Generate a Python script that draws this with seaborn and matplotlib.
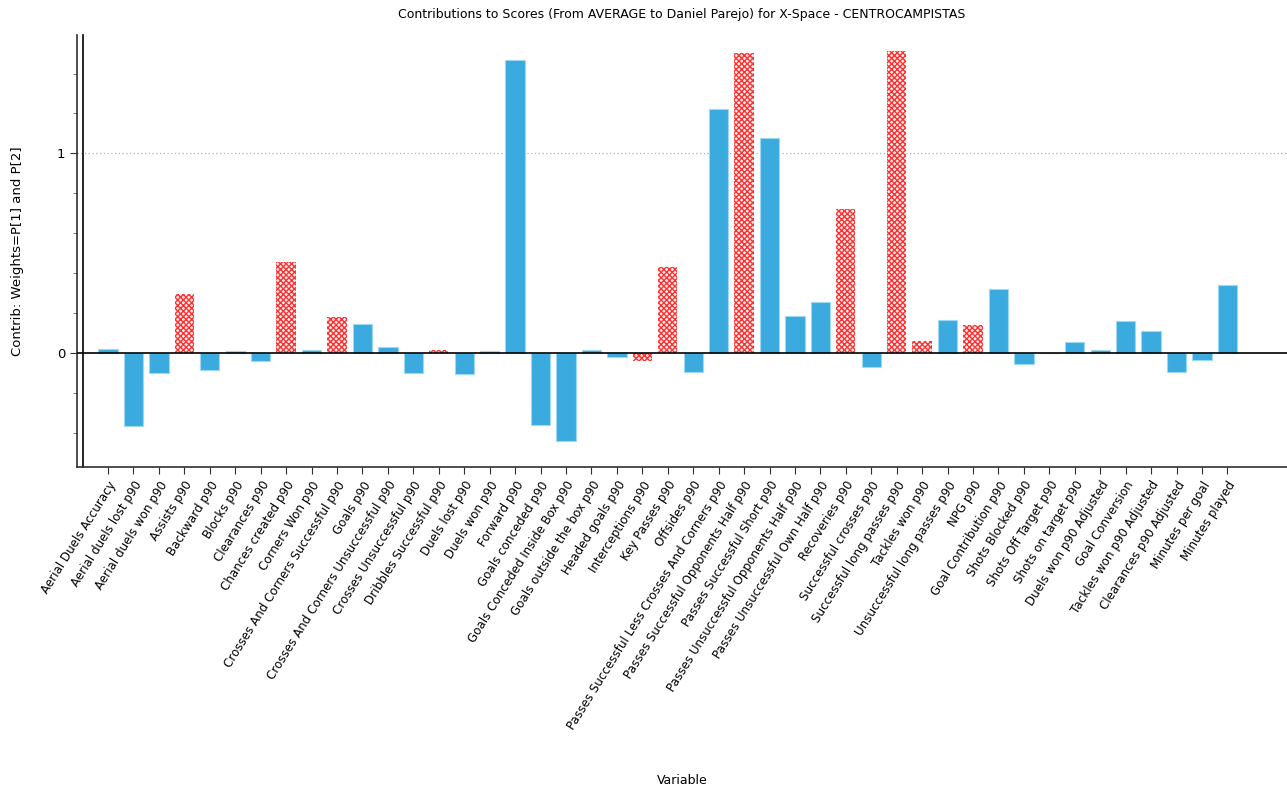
import pandas as pd
import matplotlib
matplotlib.use("Agg")
import matplotlib.pyplot as plt
from matplotlib.ticker import MultipleLocator, FixedLocator
import seaborn as sns

variables = [
    "Aerial Duels Accuracy", "Aerial duels lost p90", "Aerial duels won p90", "Assists p90",
    "Backward p90", "Blocks p90", "Clearances p90", "Chances created p90", "Corners Won p90",
    "Crosses And Corners Successful p90", "Goals p90", "Crosses And Corners Unsuccessful p90",
    "Crosses Unsuccessful p90", "Dribbles Successful p90", "Duels lost p90", "Duels won p90",
    "Forward p90", "Goals conceded p90", "Goals Conceded Inside Box p90", "Goals outside the box p90",
    "Headed goals p90", "Interceptions p90", "Key Passes p90", "Offsides p90",
    "Passes Successful Less Crosses And Corners p90", "Passes Successful Opponents Half p90",
    "Passes Successful Short p90", "Passes Unsuccessful Opponents Half p90",
    "Passes Unsuccessful Own Half p90", "Recoveries p90", "Successful crosses p90",
    "Successful long passes p90", "Tackles won p90", "Unsuccessful long passes p90", "NPG p90",
    "Goal Contribution p90", "Shots Blocked p90", "Shots Off Target p90", "Shots on target p90",
    "Duels won p90 Adjusted", "Goal Conversion", "Tackles won p90 Adjusted",
    "Clearances p90 Adjusted", "Minutes per goal", "Minutes played",
]
contrib = [
    0.020, -0.365, -0.099, 0.295, -0.084, 0.010, -0.040, 0.455, 0.016, 0.182,
    0.144, 0.028, -0.099, 0.016, -0.107, 0.007, 1.470, -0.363, -0.444, 0.014,
    -0.020, -0.040, 0.428, -0.095, 1.222, 1.503, 1.077, 0.184, 0.255, 0.722,
    -0.070, 1.513, 0.060, 0.166, 0.139, 0.320, -0.057, 0.000, 0.052, 0.012,
    0.159, 0.109, -0.095, -0.038, 0.339,
]
red_vars = [
    "Assists p90", "Chances created p90", "Crosses And Corners Successful p90",
    "Dribbles Successful p90", "Interceptions p90", "Key Passes p90",
    "Passes Successful Opponents Half p90", "Recoveries p90",
    "Successful long passes p90", "Tackles won p90", "NPG p90",
]
weight = ["P[2]" if v in red_vars else "P[1]" for v in variables]

df = pd.DataFrame({"Variable": variables, "Contrib": contrib, "Weight": weight})

blue = "#3aaadf"
red = "#ff3030"
plt.rcParams["hatch.linewidth"] = 1.0

fig = plt.figure(figsize=(12.87, 7.89), dpi=100)
ax = fig.add_axes([0.0598, 0.408, 0.94, 0.548])

sns.barplot(data=df, x="Variable", y="Contrib", hue="Weight", hue_order=["P[1]", "P[2]"],
            order=variables, palette={"P[1]": blue, "P[2]": red}, dodge=False,
            width=0.76, saturation=1, legend=False, ax=ax, zorder=2)

for bar in ax.containers[0]:
    bar.set_edgecolor("#9fd8f3")
    bar.set_linewidth(0.8)
for bar in ax.containers[1]:
    bar.set_facecolor("#fff0f0")
    bar.set_edgecolor(red)
    bar.set_hatch("xxxxxx")
    bar.set_linewidth(0)

ax.axhline(0, color="black", lw=1.2, zorder=3)
ax.axhline(1, color="#b0b0b0", lw=0.9, ls=(0, (1, 2)), zorder=1)

ax.set_xlim(-1.22, 46.33)
ax.set_ylim(-0.573, 1.595)
ax.yaxis.set_major_locator(FixedLocator([0, 1]))
ax.yaxis.set_minor_locator(MultipleLocator(0.2))
ax.tick_params(axis="y", which="major", length=5, labelsize=9.5, color="#303030")
ax.tick_params(axis="y", which="minor", length=3, color="#606060")
ax.tick_params(axis="x", length=5, color="#303030")
ax.set_xticks(range(len(variables)))
ax.set_xticklabels(variables, rotation=58, ha="right", rotation_mode="anchor", fontsize=8.6)

for s in ["top", "right"]:
    ax.spines[s].set_visible(False)
ax.spines["left"].set_color("#303030")
ax.spines["left"].set_linewidth(1.2)
ax.spines["bottom"].set_color("#303030")
ax.spines["bottom"].set_linewidth(1.2)
ax.plot([0.005, 0.005], [0, 1], transform=ax.transAxes, color="black", lw=1.2, clip_on=False)

ax.set_xlabel("Variable", fontsize=9)
ax.xaxis.set_label_coords(0.5, -0.71)
ax.set_ylabel("Contrib: Weights=P[1] and P[2]", fontsize=9.5)
ax.yaxis.set_label_coords(-0.044, 0.5)
fig.suptitle("Contributions to Scores (From AVERAGE to Daniel Parejo) for X-Space - CENTROCAMPISTAS",
             x=0.53, y=0.99, fontsize=9)

fig.savefig("out.png", dpi=100)
